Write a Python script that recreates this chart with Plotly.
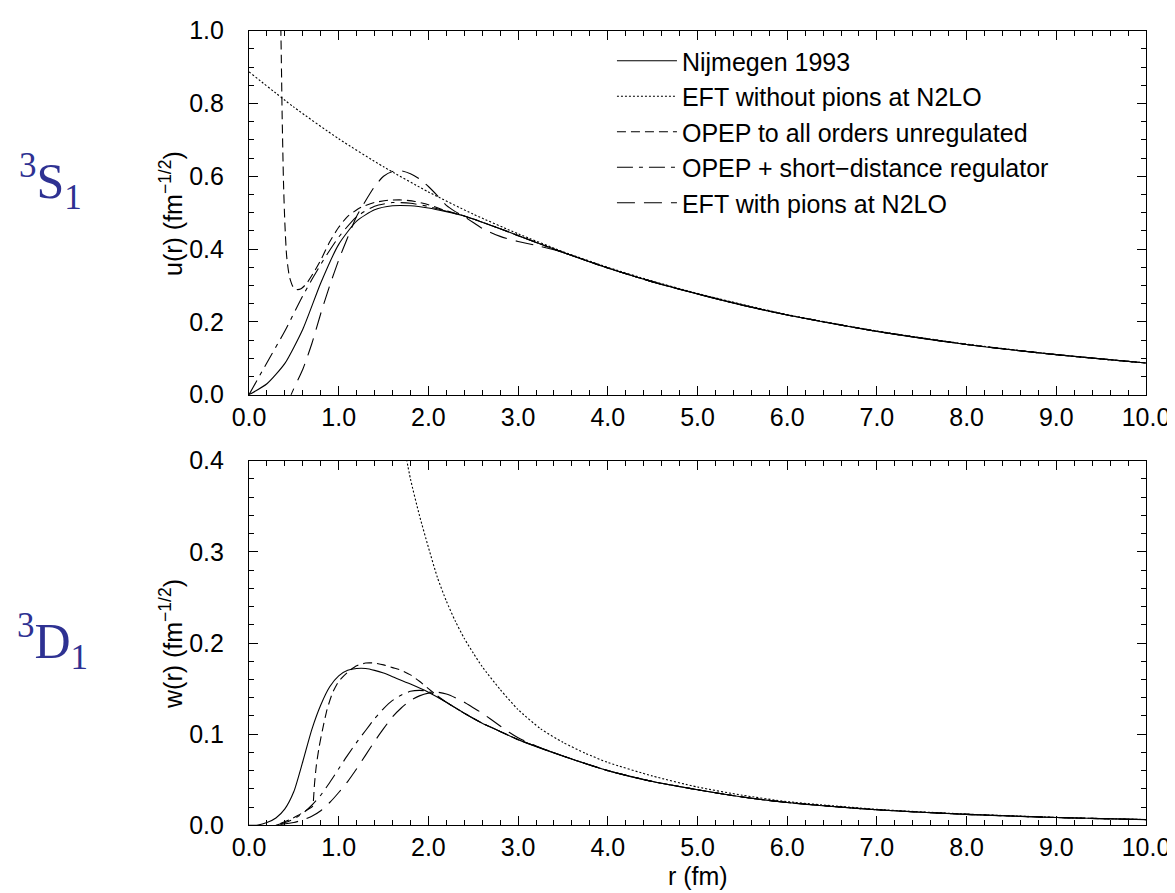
import plotly.graph_objects as go

# ---------------- data: 3S1 u(r) ----------------
r_nij_s = [0, 0.2, 0.4, 0.6, 0.8, 1.0, 1.2, 1.4, 1.6, 1.8, 2.0, 2.2, 2.4, 2.6, 2.8, 3.0, 3.5, 4.0, 4.5, 5.0, 5.5, 6.0, 7.0, 8.0, 9.0, 10.0]
u_nij = [0, 0.03, 0.086, 0.18, 0.307, 0.413, 0.477, 0.508, 0.519, 0.519, 0.513, 0.503, 0.491, 0.474, 0.456, 0.437, 0.391, 0.348, 0.310, 0.277, 0.246, 0.219, 0.174, 0.138, 0.110, 0.087]

r_nopi_s = [0, 0.5, 1.0, 1.5, 2.0, 2.5, 3.0, 3.5, 4.0, 4.5, 5.0, 6.0, 7.0, 8.0, 9.0, 10.0]
u_nopi = [0.887, 0.790, 0.703, 0.626, 0.557, 0.496, 0.442, 0.393, 0.350, 0.312, 0.278, 0.220, 0.175, 0.139, 0.110, 0.087]

r_opep_s = [0.352, 0.36, 0.37, 0.385, 0.40, 0.42, 0.45, 0.49, 0.53, 0.58, 0.64, 0.72, 0.8, 0.9, 1.0, 1.1, 1.25, 1.4, 1.55, 1.7, 1.85, 2.0, 2.2, 2.4, 2.6, 2.8, 3.0, 3.5, 4.0, 4.5, 5.0, 5.5, 6.0, 7.0, 8.0, 9.0, 10.0]
u_opep = [1.05, 0.93, 0.76, 0.58, 0.47, 0.38, 0.325, 0.297, 0.289, 0.291, 0.305, 0.335, 0.37, 0.42, 0.46, 0.49, 0.515, 0.528, 0.534, 0.535, 0.531, 0.522, 0.505, 0.491, 0.474, 0.456, 0.437, 0.391, 0.348, 0.310, 0.277, 0.246, 0.219, 0.174, 0.138, 0.110, 0.087]

r_reg_s = [0, 0.2, 0.4, 0.6, 0.8, 1.0, 1.2, 1.4, 1.6, 1.8, 2.0, 2.2, 2.4, 2.6, 2.8, 3.0, 3.5, 4.0, 4.5, 5.0, 5.5, 6.0, 7.0, 8.0, 9.0, 10.0]
u_reg = [0, 0.088, 0.175, 0.272, 0.358, 0.433, 0.489, 0.518, 0.528, 0.526, 0.517, 0.504, 0.491, 0.474, 0.456, 0.437, 0.391, 0.348, 0.310, 0.277, 0.246, 0.219, 0.174, 0.138, 0.110, 0.087]

r_eft_s = [0.44, 0.47, 0.6, 0.7, 0.8, 0.9, 1.0, 1.1, 1.2, 1.3, 1.4, 1.5, 1.6, 1.7, 1.8, 1.9, 2.0, 2.1, 2.2, 2.3, 2.4, 2.5, 2.6, 2.7, 2.8, 2.9, 3.0, 3.2, 3.4, 3.5, 4.0, 4.5, 5.0, 5.5, 6.0, 7.0, 8.0, 9.0, 10.0]
u_eft = [-0.03, 0.0, 0.07, 0.14, 0.223, 0.30, 0.37, 0.432, 0.49, 0.533, 0.572, 0.60, 0.613, 0.615, 0.607, 0.593, 0.572, 0.547, 0.52, 0.503, 0.489, 0.473, 0.457, 0.445, 0.435, 0.427, 0.421, 0.410, 0.398, 0.391, 0.348, 0.310, 0.277, 0.246, 0.219, 0.174, 0.138, 0.110, 0.087]

# ---------------- data: 3D1 w(r) ----------------
r_nij_d = [0, 0.1, 0.2, 0.3, 0.4, 0.5, 0.6, 0.7, 0.8, 0.9, 1.0, 1.1, 1.2, 1.3, 1.4, 1.5, 1.6, 1.8, 2.0, 2.2, 2.4, 2.6, 2.8, 3.0, 3.5, 4.0, 4.5, 5.0, 5.5, 6.0, 7.0, 8.0, 9.0, 10.0]
w_nij = [0, 0.0003, 0.003, 0.008, 0.018, 0.037, 0.07, 0.105, 0.132, 0.152, 0.164, 0.170, 0.172, 0.172, 0.170, 0.167, 0.163, 0.155, 0.146, 0.135, 0.123, 0.112, 0.103, 0.094, 0.076, 0.060, 0.048, 0.039, 0.031, 0.025, 0.017, 0.012, 0.0085, 0.0062]

r_nopi_d = [1.74, 1.8, 1.9, 2.0, 2.1, 2.2, 2.3, 2.4, 2.5, 2.6, 2.8, 3.0, 3.25, 3.5, 3.75, 4.0, 4.5, 5.0, 5.5, 6.0, 7.0, 8.0, 9.0, 10.0]
w_nopi = [0.41, 0.38, 0.34, 0.305, 0.272, 0.246, 0.224, 0.205, 0.189, 0.174, 0.149, 0.127, 0.106, 0.091, 0.079, 0.069, 0.054, 0.042, 0.033, 0.026, 0.0175, 0.0123, 0.0087, 0.0063]

r_opep_d = [0.35, 0.45, 0.55, 0.65, 0.71, 0.72, 0.73, 0.75, 0.78, 0.82, 0.87, 0.93, 1.0, 1.1, 1.2, 1.3, 1.4, 1.5, 1.6, 1.7, 1.8, 1.9, 2.0, 2.1, 2.2, 2.4, 2.6, 2.8, 3.0, 3.5, 4.0, 4.5, 5.0, 5.5, 6.0, 7.0, 8.0, 9.0, 10.0]
w_opep = [0.002, 0.006, 0.011, 0.017, 0.021, 0.03, 0.045, 0.065, 0.085, 0.105, 0.127, 0.145, 0.158, 0.168, 0.175, 0.178, 0.178, 0.176, 0.173, 0.170, 0.165, 0.158, 0.150, 0.142, 0.135, 0.123, 0.112, 0.103, 0.094, 0.076, 0.060, 0.048, 0.039, 0.031, 0.025, 0.017, 0.012, 0.0085, 0.0062]

r_reg_d = [0.3, 0.4, 0.5, 0.6, 0.7, 0.8, 0.9, 1.0, 1.1, 1.2, 1.3, 1.4, 1.5, 1.6, 1.7, 1.8, 1.9, 2.0, 2.1, 2.2, 2.4, 2.6, 2.8, 3.0, 3.5, 4.0, 4.5, 5.0, 5.5, 6.0, 7.0, 8.0, 9.0, 10.0]
w_reg = [0, 0.003, 0.007, 0.013, 0.022, 0.033, 0.047, 0.062, 0.077, 0.091, 0.104, 0.117, 0.128, 0.137, 0.143, 0.147, 0.148, 0.147, 0.141, 0.135, 0.123, 0.112, 0.103, 0.094, 0.076, 0.060, 0.048, 0.039, 0.031, 0.025, 0.017, 0.012, 0.0085, 0.0062]

r_eft_d = [0.35, 0.5, 0.6, 0.7, 0.8, 0.9, 1.0, 1.1, 1.2, 1.3, 1.4, 1.5, 1.6, 1.7, 1.8, 1.9, 2.0, 2.1, 2.2, 2.3, 2.4, 2.5, 2.6, 2.7, 2.8, 2.9, 3.0, 3.2, 3.5, 4.0, 4.5, 5.0, 5.5, 6.0, 7.0, 8.0, 9.0, 10.0]
w_eft = [0.001, 0.003, 0.006, 0.010, 0.016, 0.025, 0.036, 0.048, 0.062, 0.077, 0.092, 0.106, 0.119, 0.129, 0.137, 0.142, 0.145, 0.146, 0.144, 0.140, 0.135, 0.129, 0.123, 0.116, 0.109, 0.102, 0.096, 0.087, 0.076, 0.060, 0.048, 0.039, 0.031, 0.025, 0.017, 0.012, 0.0085, 0.0062]

labels = ["Nijmegen 1993", "EFT without pions at N2LO", "OPEP to all orders unregulated",
          "OPEP + short\u2212distance regulator", "EFT with pions at N2LO"]
dashes = ["solid", "2px,2px", "9px,5px", "16px,6px,4px,6px", "18px,9px"]

top_sets = [(r_nij_s, u_nij), (r_nopi_s, u_nopi), (r_opep_s, u_opep), (r_reg_s, u_reg), (r_eft_s, u_eft)]
bot_sets = [(r_nij_d, w_nij), (r_nopi_d, w_nopi), (r_opep_d, w_opep), (r_reg_d, w_reg), (r_eft_d, w_eft)]

W, H = 1175, 893
SANS = "Liberation Sans, Arial, Helvetica, sans-serif"
fig = go.Figure()
for i, (x, y) in enumerate(top_sets):
    fig.add_trace(go.Scatter(x=x, y=y, mode="lines", name=labels[i], legendgroup=str(i),
                             line=dict(color="black", width=1.1, dash=dashes[i], shape="spline", smoothing=0.6),
                             xaxis="x", yaxis="y"))
for i, (x, y) in enumerate(bot_sets):
    fig.add_trace(go.Scatter(x=x, y=y, mode="lines", name=labels[i], showlegend=False,
                             line=dict(color="black", width=1.1, dash=dashes[i], shape="spline", smoothing=0.6),
                             xaxis="x2", yaxis="y2"))

x0, x1 = 241 / W, 1138 / W
tickfont = dict(family=SANS, size=25, color="black")

def xax(anchor):
    return dict(domain=[x0, x1], anchor=anchor, range=[0, 10], dtick=1, tick0=0, tickformat=".1f",
                showline=True, linecolor="black", linewidth=1.2, mirror="ticks",
                ticks="inside", ticklen=9, tickwidth=1, tickcolor="black",
                minor=dict(dtick=0.2, ticks="inside", ticklen=5, tickwidth=1, tickcolor="black"),
                showgrid=False, zeroline=False, tickfont=tickfont, automargin=False)

def yax(anchor, dom, rng, dt, mdt):
    return dict(domain=dom, anchor=anchor, range=rng, dtick=dt, tick0=0, tickformat=".1f",
                showline=True, linecolor="black", linewidth=1.2, mirror="ticks",
                ticks="inside", ticklen=9, tickwidth=1, tickcolor="black",
                minor=dict(dtick=mdt, ticks="inside", ticklen=5, tickwidth=1, tickcolor="black"),
                showgrid=False, zeroline=False, tickfont=tickfont, automargin=False,
                ticklabelstandoff=19)

fig.update_layout(
    width=W, height=H, autosize=False,
    margin=dict(l=0, r=0, t=0, b=0, pad=0),
    paper_bgcolor="white", plot_bgcolor="white",
    xaxis=xax("y"),
    yaxis=yax("x", [1 - 386.7 / H, 1 - 22.7 / H], [0, 1.0], 0.2, 0.05),
    xaxis2=xax("y2"),
    yaxis2=yax("x2", [1 - 817.3 / H, 1 - 452.7 / H], [0, 0.4], 0.1, 0.02),
    showlegend=True,
    legend=dict(x=0.514, y=1 - 30 / H, xanchor="left", yanchor="top", bgcolor="rgba(0,0,0,0)",
                font=dict(family=SANS, size=25, color="black"),
                tracegroupgap=0, traceorder="grouped", itemwidth=60),
)

axis_title_font = dict(family=SANS, size=25, color="black")
fig.add_annotation(text="u(r) (fm<sup>\u22121/2</sup>)", x=163 / W, y=1 - 206 / H, xref="paper", yref="paper",
                   showarrow=False, textangle=-90, font=axis_title_font, xanchor="center", yanchor="middle")
fig.add_annotation(text="w(r) (fm<sup>\u22121/2</sup>)", x=163 / W, y=1 - 636 / H, xref="paper", yref="paper",
                   showarrow=False, textangle=-90, font=axis_title_font, xanchor="center", yanchor="middle")
fig.add_annotation(text="r (fm)", x=690 / W, y=1 - 868 / H, xref="paper", yref="paper",
                   showarrow=False, font=axis_title_font, xanchor="center", yanchor="middle")

wave_font = dict(family="Liberation Serif, Times New Roman, serif", size=50, color="#2E3192")
fig.add_annotation(text="<sup>3</sup>S<sub>1</sub>", x=42 / W, y=1 - 173 / H, xref="paper", yref="paper",
                   showarrow=False, font=wave_font, xanchor="center", yanchor="middle")
fig.add_annotation(text="<sup>3</sup>D<sub>1</sub>", x=44 / W, y=1 - 633 / H, xref="paper", yref="paper",
                   showarrow=False, font=wave_font, xanchor="center", yanchor="middle")

fig.write_html("out.html")
